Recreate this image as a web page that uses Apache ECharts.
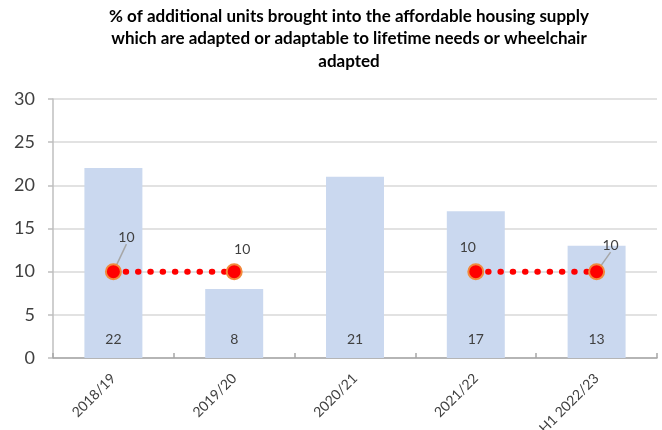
<!DOCTYPE html>
<html><head><meta charset="utf-8">
<script src="https://cdn.jsdelivr.net/npm/echarts@6/dist/echarts.min.js"></script>
<style>html,body{margin:0;padding:0;background:#fff}#c{width:662px;height:430px}</style>
</head><body><div id="c"></div>
<script>
const categories = ['2018/19', '2019/20', '2020/21', '2021/22', 'H1 2022/23'];
const actualValues = [22, 8, 21, 17, 13];
const targetValues = [10, 10, null, 10, 10];
const yTicks = [0, 5, 10, 15, 20, 25, 30];

const labelShift = [[13, -14], [8, -2], null, [-8, -4], [14, -6]];
const leaderShown = [true, false, false, false, true];
const font = 'Lato';
const chart = echarts.init(document.getElementById('c'));
chart.setOption({
  animation: false,
  title: {
    text: '% of additional units brought into the affordable housing supply\nwhich are adapted or adaptable to lifetime needs or wheelchair\nadapted',
    left: 344, top: 0, textAlign: 'center',
    textStyle: {fontFamily: font, fontWeight: 'bold', fontSize: 17, lineHeight: 22.5, color: '#000'}
  },
  grid: {left: 53, right: 5, top: 99, bottom: 72, outerBoundsMode: 'none'},
  xAxis: {
    type: 'category', data: categories,
    axisLine: {lineStyle: {color: '#a6a6a6', width: 1.5}},
    axisTick: {show: true, inside: true, length: 5, lineStyle: {color: '#a6a6a6', width: 1.5}},
    axisLabel: {rotate: 45, margin: 18, fontFamily: font, fontSize: 14, color: '#404040'}
  },
  yAxis: {
    type: 'value', min: yTicks[0], max: yTicks[yTicks.length - 1], interval: 5,
    axisLine: {show: true, lineStyle: {color: '#bfbfbf', width: 1.5}},
    axisTick: {show: true, length: 5, lineStyle: {color: '#bfbfbf', width: 1.5}},
    splitLine: {lineStyle: {color: '#d9d9d9', width: 1.5}},
    axisLabel: {margin: 18, fontFamily: font, fontSize: 18, color: '#404040'}
  },
  series: [
    {
      type: 'bar', data: actualValues, barWidth: '48%',
      itemStyle: {color: '#cad8ef'},
      label: {show: true, position: 'insideBottom', distance: 12, fontFamily: font, fontSize: 14, color: '#404040'}
    },
    {
      type: 'line',
      data: targetValues.map((v, i) => ({value: v, labelLine: {show: leaderShown[i]}})),
      connectNulls: false, z: 5,
      symbol: 'circle', symbolSize: 15,
      itemStyle: {color: '#ff0000', borderColor: '#f28a3c', borderWidth: 2},
      lineStyle: {color: '#ff0000', width: 6, type: [0.5, 11.8], cap: 'round'},
      label: {show: true, position: 'top', distance: 5, fontFamily: font, fontSize: 14, color: '#404040'},
      labelLine: {show: true, lineStyle: {color: '#a6a6a6', width: 1.5}},
      labelLayout: function (p) {
        const s = labelShift[p.dataIndex] || [0, 0];
        return {dx: s[0], dy: s[1]};
      }
    }
  ]
});
</script></body></html>
